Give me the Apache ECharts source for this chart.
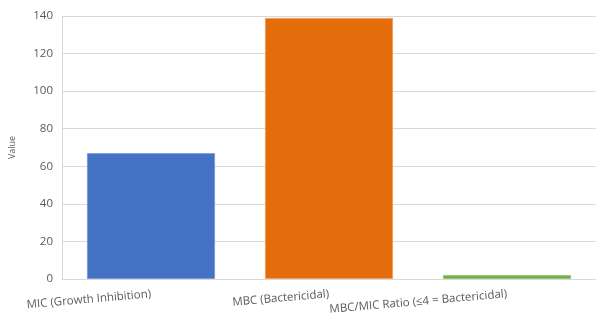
<!DOCTYPE html>
<html>
<head>
<meta charset="utf-8">
<script src="https://cdn.jsdelivr.net/npm/echarts@6/dist/echarts.min.js"></script>
<style>
  html, body { margin: 0; padding: 0; background: #fff; }
  #chart { width: 596px; height: 320px; }
</style>
</head>
<body>
<div id="chart"></div>
<script>
// categories and values
const categories = ['MIC (Growth Inhibition)', 'MBC (Bactericidal)', 'MBC/MIC Ratio (≤4 = Bactericidal)'];
const values = [67, 139, 2.07];
const barColors = ['#4472C4', '#E46C0A', '#70AD47'];
const borderColors = ['#7a9ad6', '#f0a060', '#97c77a'];

const myChart = echarts.init(document.getElementById('chart'));

const option = {
  animation: false,
  grid: { left: 62, right: 0, top: 16, bottom: 41 },
  xAxis: {
    type: 'category',
    data: categories,
    axisLine: { show: true, lineStyle: { color: '#d9d9d9' } },
    axisTick: { show: false },
    axisLabel: {
      rotate: 5,
      interval: 0,
      margin: 15,
      color: '#595959',
      fontSize: 11.5,
      fontFamily: 'Open Sans'
    }
  },
  yAxis: {
    type: 'value',
    min: 0,
    max: 140,
    interval: 20,
    name: 'Value',
    nameLocation: 'middle',
    nameGap: 45,
    nameTextStyle: { color: '#595959', fontSize: 9, fontFamily: 'Open Sans' },
    axisLine: { show: true, lineStyle: { color: '#d9d9d9' } },
    axisTick: { show: false },
    axisLabel: { color: '#595959', fontSize: 11.5, fontFamily: 'Open Sans', margin: 9 },
    splitLine: { lineStyle: { color: '#d9d9d9' } }
  },
  series: [{
    type: 'bar',
    barWidth: '72%',
    data: values.map((v, i) => ({
      value: v,
      itemStyle: { color: barColors[i], borderColor: borderColors[i], borderWidth: 1 }
    }))
  }]
};
myChart.setOption(option);
</script>
</body>
</html>
